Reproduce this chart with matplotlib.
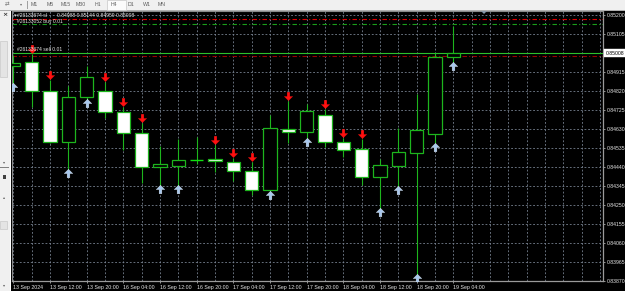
import matplotlib
matplotlib.use('Agg')
import matplotlib.pyplot as plt
from matplotlib.path import Path
from matplotlib.patches import Rectangle, Polygon
from matplotlib.transforms import blended_transform_factory
import numpy as np

plt.rcParams['font.family'] = ['Liberation Sans', 'DejaVu Sans']

# ---------------- data (EURGBP H4) ----------------
opens  = [0.84944, 0.84962, 0.84820, 0.84562, 0.84787, 0.84817, 0.84712, 0.84607,
          0.84437, 0.84445, 0.84474, 0.84479, 0.84465, 0.84420, 0.84322, 0.84630,
          0.84615, 0.84700, 0.84562, 0.84527, 0.84387, 0.84445, 0.84510, 0.84605,
          0.84988]
highs  = [0.84999, 0.85004, 0.84874, 0.84844, 0.84944, 0.84864, 0.84739, 0.84659,
          0.84544, 0.84579, 0.84589, 0.84549, 0.84484, 0.84464, 0.84699, 0.84770,
          0.84754, 0.84729, 0.84585, 0.84579, 0.84479, 0.84632, 0.84802, 0.85009,
          0.85144]
lows   = [0.84854, 0.84740, 0.84558, 0.84424, 0.84774, 0.84684, 0.84524, 0.84359,
          0.84344, 0.84344, 0.84454, 0.84415, 0.84370, 0.84299, 0.84314, 0.84557,
          0.84579, 0.84540, 0.84487, 0.84349, 0.84229, 0.84340, 0.83899, 0.84557,
          0.84959]
closes = [0.84959, 0.84820, 0.84562, 0.84789, 0.84890, 0.84712, 0.84607, 0.84437,
          0.84452, 0.84474, 0.84474, 0.84469, 0.84420, 0.84324, 0.84632, 0.84614,
          0.84717, 0.84565, 0.84525, 0.84390, 0.84449, 0.84512, 0.84624, 0.84990,
          0.85008]
signals = ['buy', 'sell', 'sell', 'buy', 'buy', 'sell', 'sell', 'sell', 'buy', 'buy',
           None, 'sell', 'sell', 'sell', 'buy', 'sell', 'buy', 'sell', 'sell', 'sell',
           'buy', 'buy', 'buy', 'buy', 'buy']

x_label_pos = [0, 2, 4, 6, 8, 10, 12, 14, 16, 18, 20, 22, 24]
x_labels = ['13 Sep 2024', '13 Sep 12:00', '13 Sep 20:00', '16 Sep 04:00',
            '16 Sep 12:00', '16 Sep 20:00', '17 Sep 04:00', '17 Sep 12:00',
            '17 Sep 20:00', '18 Sep 04:00', '18 Sep 12:00', '18 Sep 20:00',
            '19 Sep 04:00']
y_ticks = [0.85200, 0.85105, 0.85010, 0.84915, 0.84820, 0.84725, 0.84630, 0.84535,
           0.84440, 0.84345, 0.84250, 0.84155, 0.84060, 0.83965, 0.83870]
y_labels = ['0.85200', '0.85105', '', '0.84915', '0.84820', '0.84725', '0.84630',
            '0.84535', '0.84440', '0.84345', '0.84250', '0.84155', '0.84060',
            '0.83965', '0.83870']

bid_price = 0.85008
sl_line = 0.85180
buy_line = 0.85152
sell_line = 0.84995
ohlc_text = '0.84988 0.85144 0.84959 0.85008'
tabs = ['M1', 'M5', 'M15', 'M30', 'H1', 'H4', 'D1', 'W1', 'MN']
tab_x = [34, 50, 66, 81, 98, 114, 130.5, 147, 162]

# ---------------- figure ----------------
W, H = 625, 291
fig = plt.figure(figsize=(W / 100, H / 100), dpi=100, facecolor='black')

def fx(x):
    return x / W

def fy(y):
    return 1 - y / H

ax = fig.add_axes([fx(12), fy(281), fx(603) - fx(12), fy(11) - fy(281)])
ax.set_facecolor('black')
ax.set_xlim(-0.071, 32.17)
ax.set_ylim(0.838685, 0.852185)

GRID = '#76808f'
GREEN = '#1db51d'
LIME = '#10e010'
TXT = '#e6e6e6'

# grid
for p in y_ticks:
    ax.axhline(p, color=GRID, lw=0.6, ls=(0, (2.2, 2.2)), zorder=1)
for k in range(0, 33):
    ax.axvline(k, color=GRID, lw=0.6, ls=(0, (2.2, 2.2)), zorder=1)

# order lines
ax.axhline(sl_line, color='#e00000', lw=0.8, ls=(0, (4, 2, 1, 2)), zorder=2)
ax.axhline(buy_line, color='#1a9e1a', lw=0.8, ls=(0, (4, 2, 1, 2)), zorder=2)
ax.axhline(sell_line, color='#9a0000', lw=0.8, ls=(0, (4, 2, 1, 2)), zorder=2)
ax.axhline(bid_price, color='#2cc02c', lw=0.8, zorder=2)

# candles
bw = 0.72
for i in range(len(opens)):
    o, h, l, c = opens[i], highs[i], lows[i], closes[i]
    ax.vlines(i, l, h, color=GREEN, lw=0.8, zorder=3)
    if c == o:
        ax.hlines(o, i - bw / 2, i + bw / 2, color=LIME, lw=1.0, zorder=4)
    else:
        face = 'black' if c > o else 'white'
        ax.add_patch(Rectangle((i - bw / 2, min(o, c)), bw, abs(c - o),
                               facecolor=face, edgecolor=GREEN, lw=0.9, zorder=4))

# arrows
down = Path([(-0.16, 0.5), (0.16, 0.5), (0.16, 0.0), (0.5, 0.0), (0.0, -0.5),
             (-0.5, 0.0), (-0.16, 0.0), (-0.16, 0.5)])
up = Path([(-0.16, -0.5), (0.16, -0.5), (0.16, 0.0), (0.5, 0.0), (0.0, 0.5),
           (-0.5, 0.0), (-0.16, 0.0), (-0.16, -0.5)])
for i, s in enumerate(signals):
    if s == 'sell':
        ax.plot(i, highs[i] + 0.00025, marker=down, ms=6, mfc='#ff1010',
                mec='#ff1010', mew=0.2, zorder=6, clip_on=False)
    elif s == 'buy':
        ax.plot(i, lows[i] - 0.00016, marker=up, ms=6, mfc='#a8c8ee',
                mec='#dde9f7', mew=0.3, zorder=6, clip_on=True)

# axes styling
for side in ['left', 'top']:
    ax.spines[side].set_color('#8a8a8a')
    ax.spines[side].set_linewidth(0.8)
for side in ['right', 'bottom']:
    ax.spines[side].set_color('#9a9a9a')
    ax.spines[side].set_linewidth(0.9)

ax.yaxis.tick_right()
ax.set_yticks(y_ticks)
ax.set_yticklabels(y_labels)
ax.set_xticks(x_label_pos)
ax.set_xticklabels(x_labels)
ax.tick_params(axis='y', which='both', direction='out', length=1.6, width=0.6,
               color='#aaaaaa', labelsize=3.7, labelcolor=TXT, pad=1.2)
ax.tick_params(axis='x', which='both', direction='out', length=1.6, width=0.6,
               color='#aaaaaa', labelsize=3.8, labelcolor=TXT, pad=1.0)
for lab in ax.get_xticklabels():
    lab.set_ha('left')

# current price box
trans = blended_transform_factory(ax.transAxes, ax.transData)
ax.text(1.004, bid_price, '0.85008', transform=trans, fontsize=3.7, color='black',
        ha='left', va='center', clip_on=False, zorder=10,
        bbox=dict(boxstyle='square,pad=0.25', fc='white', ec='white', lw=0.3))

# chart shift marker
ax.add_patch(Polygon([[fx(481), fy(11)], [fx(487), fy(11)], [fx(484), fy(14)]],
                     closed=True, transform=fig.transFigure, fc='#8898aa',
                     ec='none', zorder=10, clip_on=False))

# order labels / header
fig.text(fx(14), fy(15.5), '\u25be', fontsize=3.6, color=TXT, ha='left', va='center',
         family=['DejaVu Sans'])
fig.text(fx(17), fy(15.5), '#26133674 sl', fontsize=3.6, color=TXT, ha='left', va='center')
fig.text(fx(57), fy(15.5), ohlc_text, fontsize=3.6, color=TXT, ha='left', va='center')
fig.text(fx(15), fy(21), '\u2022', fontsize=3.0, color=TXT, ha='left', va='center',
         family=['DejaVu Sans'])
fig.text(fx(17), fy(21), '#26133052 buy 0.01', fontsize=3.6, color=TXT, ha='left', va='center')
fig.text(fx(17), fy(49), '#26133674 sell 0.01', fontsize=3.6, color=TXT, ha='left', va='center')

# ---------------- window chrome ----------------
fig.patches.append(Rectangle((0, fy(10)), 1, 1 - fy(10), transform=fig.transFigure,
                             fc='#f0f0f0', ec='none', zorder=0))
fig.patches.append(Rectangle((0, 0), fx(10), fy(10), transform=fig.transFigure,
                             fc='#f0f0f0', ec='none', zorder=0))
fig.patches.append(Rectangle((fx(10), 0), fx(1), fy(10), transform=fig.transFigure,
                             fc='#ffffff', ec='none', zorder=0))
fig.patches.append(Rectangle((0, fy(10.5)), 1, 1 / H, transform=fig.transFigure,
                             fc='#b0b0b0', ec='none', zorder=0))
# H4 tab highlight
fig.patches.append(Rectangle((fx(107), fy(9.5)), fx(19), fy(0) - fy(9.5),
                             transform=fig.transFigure, fc='#fbfbfb', ec='#c8c8c8',
                             lw=0.5, zorder=0))
for t, x in zip(tabs, tab_x):
    fig.text(fx(x), fy(4), t, fontsize=3.8, color='#606060', ha='center', va='center')
fig.patches.append(Rectangle((fx(27), fy(9)), 0.6 / W, 8 / H, transform=fig.transFigure,
                             fc='#a0a0a0', ec='none'))
fig.text(fx(7), fy(4), '\u21c4', fontsize=4.0, color='#707070', ha='center', va='center',
         family=['DejaVu Sans'])
fig.text(fx(21), fy(4), '\u25be', fontsize=3.0, color='#707070', ha='center', va='center',
         family=['DejaVu Sans'])
# sidebar bits
fig.text(fx(4.5), fy(15), '\u00d7', fontsize=4.5, color='#303030', ha='center', va='center',
         family=['DejaVu Sans'], weight='bold')
fig.patches.append(Rectangle((0, fy(77)), fx(7), (77 - 41) / H, transform=fig.transFigure,
                             fc='#e4e4e4', ec='#c0c0c0', lw=0.4))
fig.text(fx(4), fy(162), '\u25be', fontsize=3.0, color='#606060', ha='center', va='center',
         family=['DejaVu Sans'])
fig.patches.append(Rectangle((0, fy(167.5)), fx(9), 0.8 / H, transform=fig.transFigure,
                             fc='#808080', ec='none'))
fig.patches.append(Rectangle((fx(2.5), fy(179)), fx(3.5), 4 / H, transform=fig.transFigure,
                             fc='#404040', ec='none'))
fig.text(fx(4), fy(197), '\u25b4', fontsize=3.0, color='#606060', ha='center', va='center',
         family=['DejaVu Sans'])
fig.patches.append(Rectangle((0, fy(229)), fx(7), 8 / H, transform=fig.transFigure,
                             fc='#e4e4e4', ec='#c0c0c0', lw=0.4))
fig.text(fx(4), fy(285), '\u25be', fontsize=3.0, color='#606060', ha='center', va='center',
         family=['DejaVu Sans'])

fig.savefig('out.png', dpi=100, facecolor='black')
